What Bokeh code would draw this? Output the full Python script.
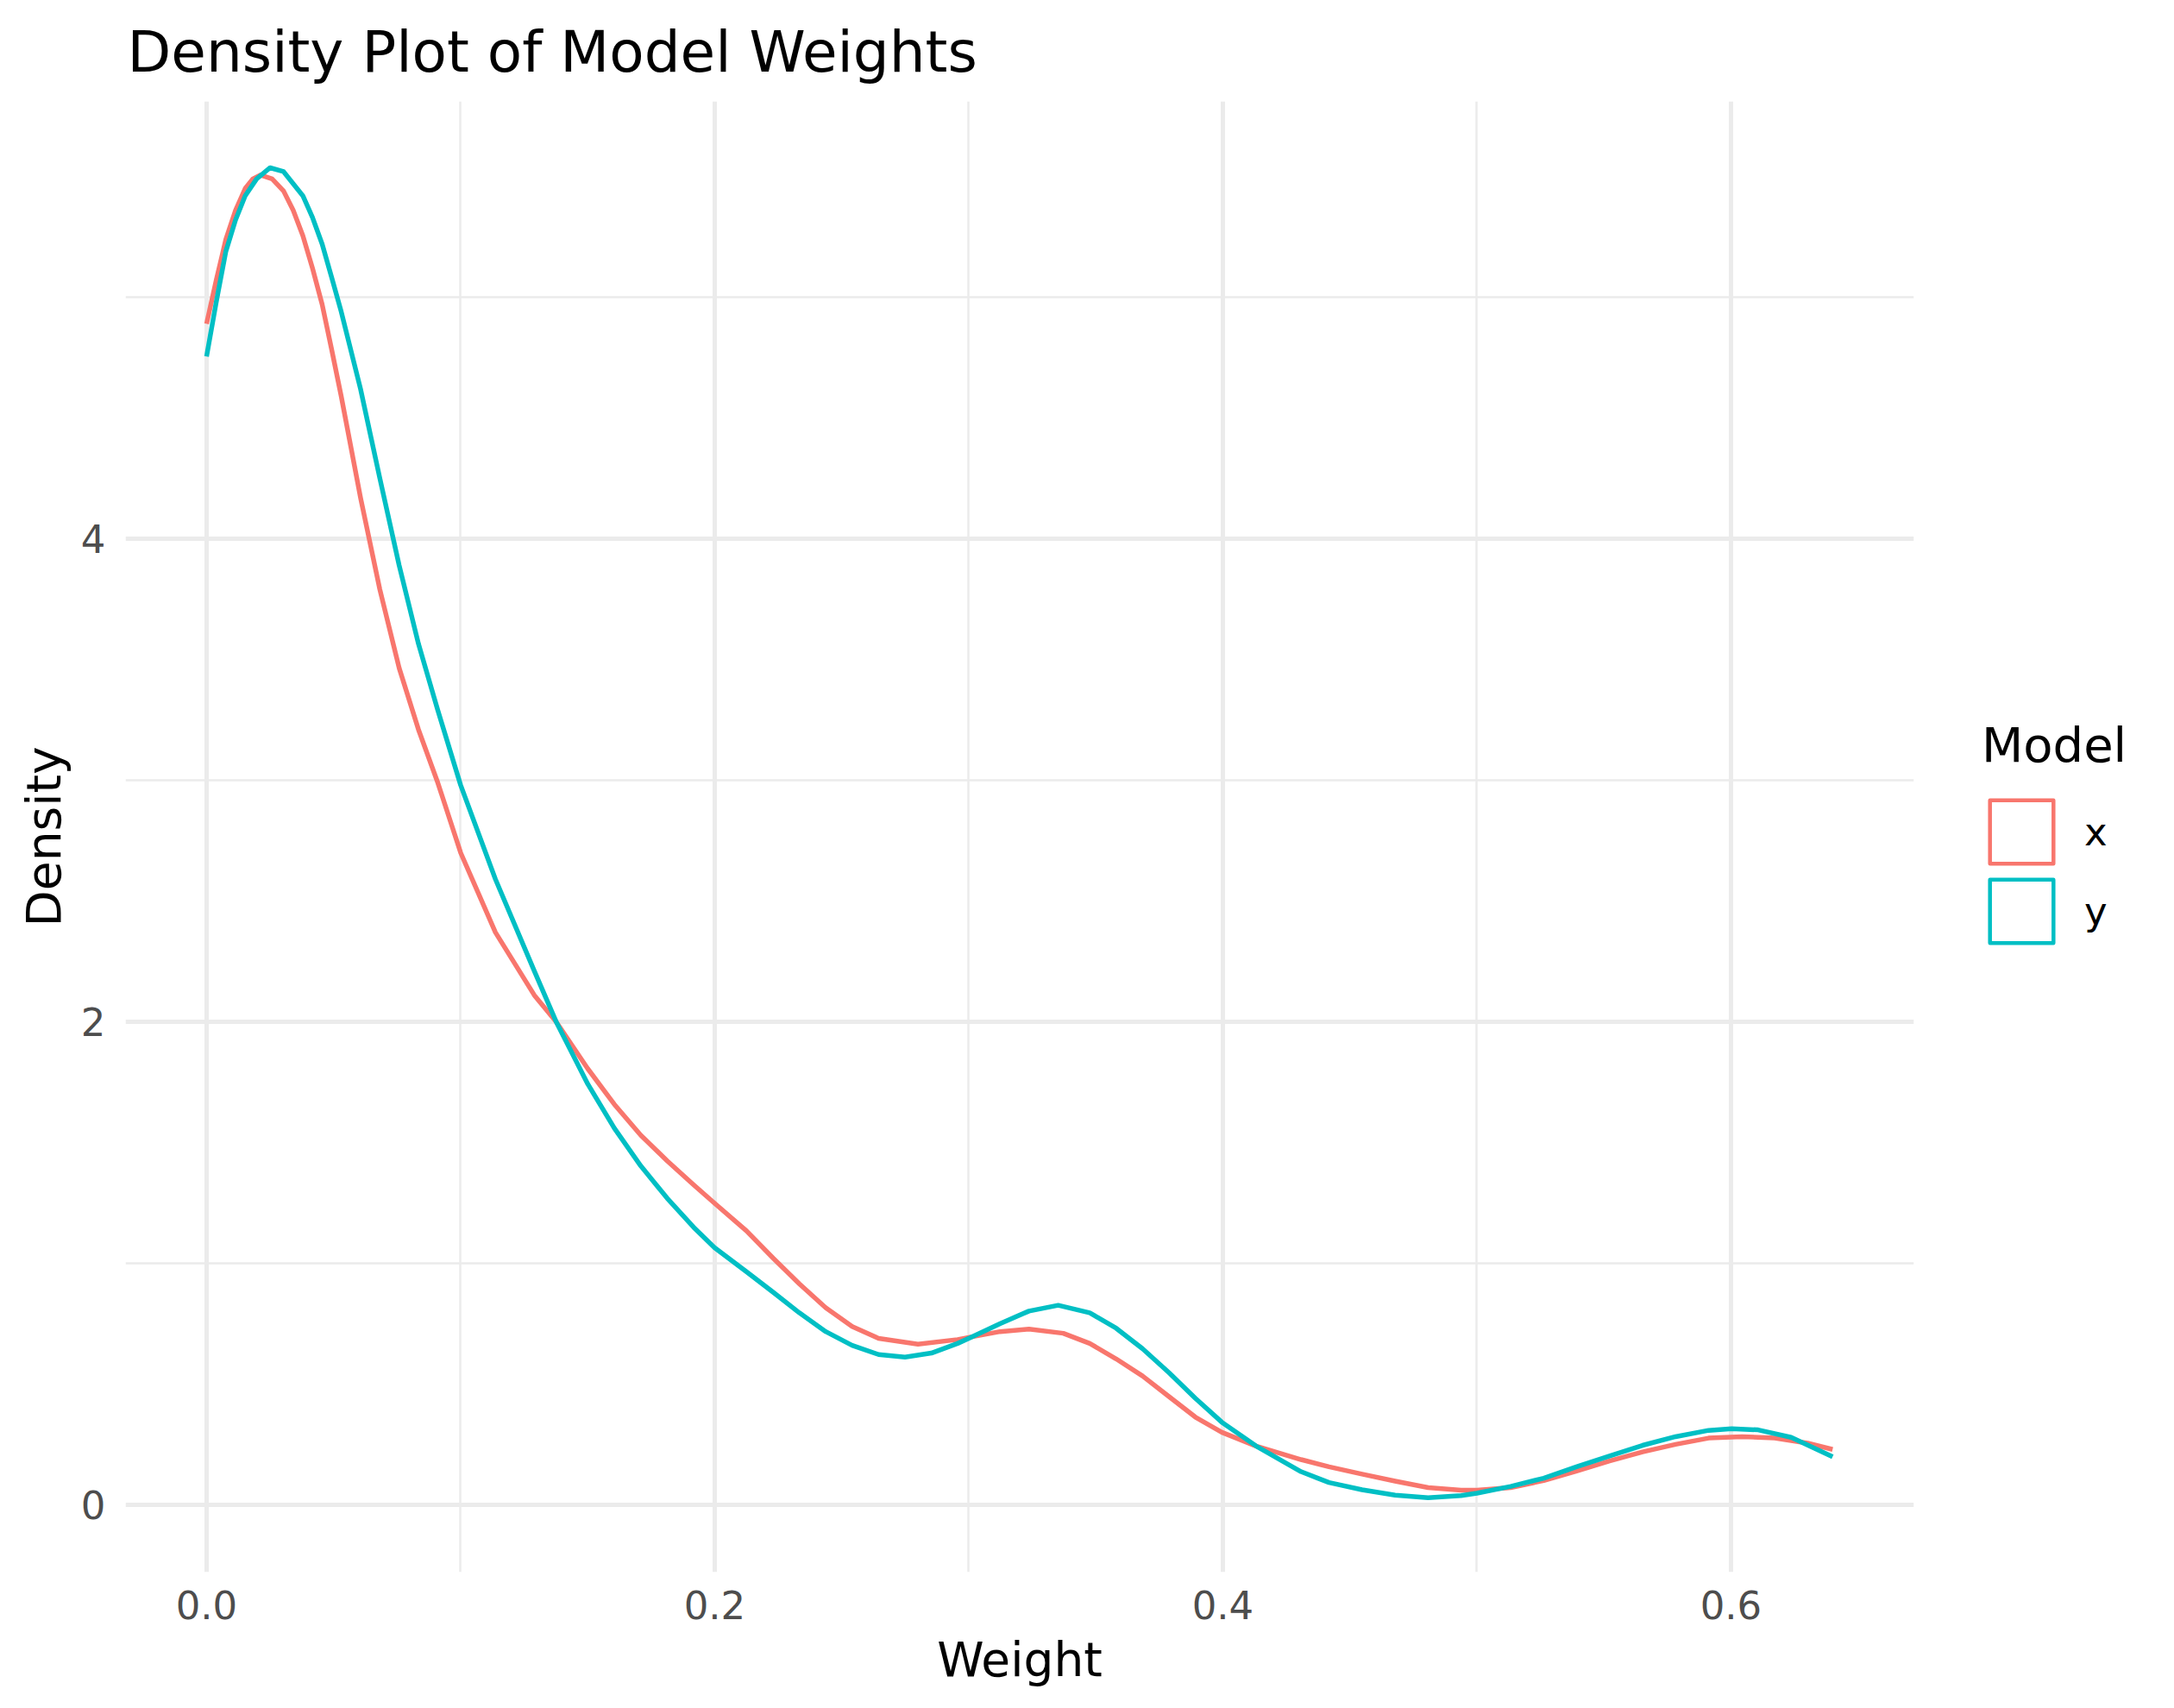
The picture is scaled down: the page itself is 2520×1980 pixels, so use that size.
from bokeh.plotting import figure
from bokeh.models import Range1d, FixedTicker, NumeralTickFormatter, Legend, LegendItem
from bokeh.embed import file_html
from bokeh.resources import INLINE

# ---- data ----
series_names = ["x", "y"]
series_colors = ["#F8766D", "#00BFC4"]

x_weight = [0.0, 0.0038, 0.0076, 0.0114, 0.0152, 0.0182, 0.0212, 0.0258, 0.0303, 0.0341,
            0.0379, 0.0417, 0.0455, 0.0493, 0.053, 0.0606, 0.0682,
            0.0758, 0.0834, 0.091, 0.1, 0.1137, 0.129, 0.1376, 0.150, 0.1605, 0.1709,
            0.1813, 0.1917, 0.2, 0.2125, 0.223, 0.2333, 0.2437, 0.2541, 0.2645, 0.28,
            0.2956, 0.3, 0.3123, 0.3237, 0.3372, 0.3476, 0.358, 0.3684, 0.3788, 0.3892,
            0.3996, 0.4131, 0.4308, 0.4418, 0.4548, 0.4678, 0.4808, 0.4938, 0.5, 0.5133,
            0.5263, 0.5392, 0.5522, 0.5652, 0.5782, 0.5912, 0.6044, 0.6172, 0.6302, 0.64]
x_density = [4.89, 5.07, 5.24, 5.36, 5.45, 5.49, 5.506, 5.49, 5.44, 5.36,
             5.255, 5.12, 4.97, 4.78, 4.59, 4.17, 3.79,
             3.465, 3.21, 2.99, 2.70, 2.37, 2.11, 2.0, 1.806, 1.658, 1.53,
             1.424, 1.325, 1.248, 1.134, 1.021, 0.915, 0.816, 0.738, 0.689, 0.665,
             0.684, 0.693, 0.717, 0.727, 0.71, 0.668, 0.604, 0.533, 0.448, 0.363,
             0.30, 0.243, 0.187, 0.157, 0.127, 0.098, 0.071, 0.060, 0.060, 0.071,
             0.10, 0.139, 0.181, 0.219, 0.25, 0.276, 0.282, 0.276, 0.255, 0.229]

y_weight = [0.0, 0.0038, 0.0076, 0.0114, 0.0152, 0.0197, 0.025, 0.0303, 0.0341, 0.0379,
            0.0417, 0.0455, 0.0493, 0.053, 0.0606, 0.0682,
            0.0758, 0.0834, 0.091, 0.1, 0.1137, 0.129, 0.1376, 0.150, 0.1605, 0.1709,
            0.1813, 0.1917, 0.2, 0.2125, 0.223, 0.2333, 0.2437, 0.2541, 0.2645, 0.2749,
            0.2853, 0.2956, 0.3, 0.3123, 0.3237, 0.3352, 0.3476, 0.358, 0.3684, 0.3788,
            0.3892, 0.3996, 0.4131, 0.4308, 0.4418, 0.4548, 0.4678, 0.4808, 0.4938, 0.5,
            0.5133, 0.5263, 0.5392, 0.5522, 0.5652, 0.5782, 0.5912, 0.6003, 0.6107, 0.6237, 0.64]
y_density = [4.755, 4.98, 5.19, 5.32, 5.42, 5.49, 5.536, 5.52, 5.47, 5.42,
             5.33, 5.22, 5.08, 4.94, 4.62, 4.25,
             3.89, 3.565, 3.29, 2.98, 2.59, 2.21, 2.0, 1.743, 1.559, 1.403,
             1.269, 1.149, 1.064, 0.965, 0.88, 0.795, 0.717, 0.66, 0.622, 0.611,
             0.628, 0.668, 0.689, 0.75, 0.802, 0.826, 0.795, 0.731, 0.646, 0.547,
             0.441, 0.342, 0.243, 0.137, 0.092, 0.062, 0.040, 0.029, 0.038, 0.048,
             0.076, 0.11, 0.157, 0.202, 0.246, 0.282, 0.308, 0.315, 0.31, 0.279, 0.199]

x_major_ticks = [0.0, 0.2, 0.4, 0.6]
x_minor_ticks = [0.1, 0.3, 0.5]
y_major_ticks = [0, 2, 4]
y_minor_ticks = [1, 3, 5]

FONT = "DejaVu Sans"
GRID = "#EBEBEB"

p = figure(frame_width=2073, frame_height=1705,
           x_range=Range1d(-0.0319, 0.672), y_range=Range1d(-0.279, 5.811),
           output_backend="svg", toolbar_location=None,
           min_border_left=145, min_border_right=286, min_border_top=117, min_border_bottom=130,
           title="Density Plot of Model Weights")
p.outline_line_color = None
p.background_fill_color = "white"
p.border_fill_color = "white"

p.title.text_font = FONT
p.title.text_font_size = "66px"
p.title.text_font_style = "normal"
p.title.text_color = "black"
p.title.offset = 2
p.title.standoff = 37

p.xaxis.ticker = FixedTicker(ticks=x_major_ticks, minor_ticks=x_minor_ticks)
p.yaxis.ticker = FixedTicker(ticks=y_major_ticks, minor_ticks=y_minor_ticks)
p.xaxis.formatter = NumeralTickFormatter(format="0.0")
p.yaxis.formatter = NumeralTickFormatter(format="0")

for ax in (p.xaxis, p.yaxis):
    ax.axis_line_color = None
    ax.major_tick_line_color = None
    ax.minor_tick_line_color = None
    ax.major_tick_out = 0
    ax.major_tick_in = 0
    ax.minor_tick_out = 0
    ax.major_label_text_font = FONT
    ax.major_label_text_font_size = "45px"
    ax.major_label_text_color = "#4D4D4D"
    ax.axis_label_text_font = FONT
    ax.axis_label_text_font_size = "55px"
    ax.axis_label_text_font_style = "normal"
    ax.axis_label_text_color = "black"

p.xaxis.axis_label = "Weight"
p.yaxis.axis_label = "Density"
p.xaxis.major_label_standoff = 21
p.yaxis.major_label_standoff = 23
p.xaxis.axis_label_standoff = 12
p.yaxis.axis_label_standoff = 8

for g in (p.xgrid, p.ygrid):
    g.grid_line_color = GRID
    g.grid_line_width = 5
    g.minor_grid_line_color = GRID
    g.minor_grid_line_width = 2.5

series = [(x_weight, x_density), (y_weight, y_density)]
items = []
for (xs, ys), name, col in zip(series, series_names, series_colors):
    p.line(xs, ys, line_color=col, line_width=5.5, line_join="round", line_cap="butt")
    # hidden legend proxy: zero-size boxes on the series' own points, drawn only as the legend key
    proxy = p.quad(left=xs, right=xs, top=ys, bottom=ys, fill_color=None,
                   line_color=col, line_width=4.5, line_join="round")
    proxy.visible = False
    items.append(LegendItem(label=name, renderers=[proxy]))

legend = Legend(items=items, location=(79, 720))
legend.title = "Model"
legend.title_text_font = FONT
legend.title_text_font_size = "56px"
legend.title_text_font_style = "normal"
legend.title_text_color = "black"
legend.title_standoff = 22
legend.label_text_font = FONT
legend.label_text_font_size = "45px"
legend.label_text_color = "black"
legend.label_standoff = 27
legend.glyph_width = 92
legend.glyph_height = 92
legend.label_height = 60
legend.spacing = 0
legend.padding = 0
legend.margin = 0
legend.border_line_color = None
legend.background_fill_alpha = 0
legend.inactive_fill_alpha = 0
p.add_layout(legend, "right")

open("out.html", "w").write(file_html(p, INLINE))
